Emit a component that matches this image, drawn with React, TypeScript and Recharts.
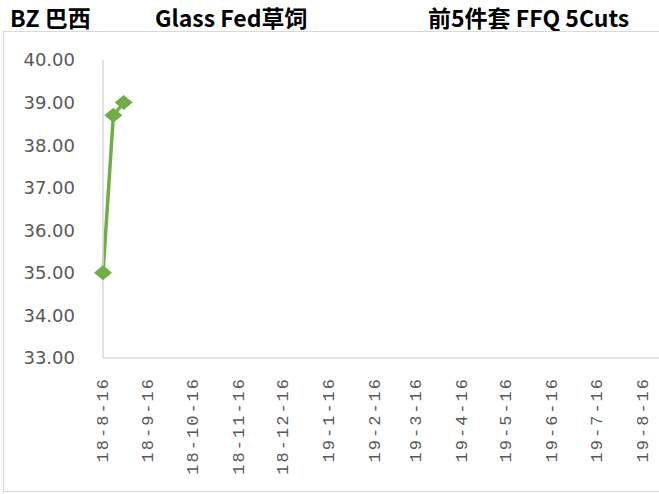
import { Line, LineChart, XAxis, YAxis } from 'recharts'

const pointDates = ['2018-08-16', '2018-08-23', '2018-08-30']
const prices = [35.0, 38.7, 39.0]

const tickDates = [
  '2018-08-16',
  '2018-09-16',
  '2018-10-16',
  '2018-11-16',
  '2018-12-16',
  '2019-01-16',
  '2019-02-16',
  '2019-03-16',
  '2019-04-16',
  '2019-05-16',
  '2019-06-16',
  '2019-07-16',
  '2019-08-16',
]
const axisStart = '2018-08-16'
const axisEnd = '2019-09-16'

const yTicks = [33, 34, 35, 36, 37, 38, 39, 40]

const titleParts = [
  { text: 'BZ 巴西', left: 10 },
  { text: 'Glass Fed草饲', left: 155 },
  { text: '前5件套 FFQ 5Cuts', left: 428 },
]

const toTime = (d: string) => new Date(d + 'T00:00:00Z').getTime()

const data = pointDates.map((d, i) => ({ t: toTime(d), price: prices[i] }))

const fmtDate = (t: number) => {
  const dt = new Date(t)
  return `${dt.getUTCFullYear() % 100}-${dt.getUTCMonth() + 1}-${dt.getUTCDate()}`
}

const GREEN = '#70AD47'
const AXIS = '#D9D9D9'
const LABEL = '#595959'

const Diamond = (props: any) => {
  const { cx, cy } = props
  if (cx == null || cy == null) return null
  return (
    <polygon
      points={`${cx - 9},${cy} ${cx},${cy - 7.5} ${cx + 9},${cy} ${cx},${cy + 7.5}`}
      fill={GREEN}
    />
  )
}

const DateTick = (props: any) => {
  const { x, y, payload } = props
  return (
    <text
      x={x}
      y={y}
      transform={`rotate(-90 ${x} ${y})`}
      textAnchor="end"
      dominantBaseline="central"
      fill={LABEL}
      fontSize={17}
      letterSpacing={2}
      fontFamily="'Liberation Mono', monospace"
    >
      {fmtDate(payload.value)}
    </text>
  )
}

export default function App() {
  return (
    <div
      style={{
        position: 'absolute',
        left: 0,
        top: 0,
        width: 659,
        height: 494,
        overflow: 'hidden',
        background: '#fff',
      }}
    >
      {titleParts.map((p) => (
        <div
          key={p.text}
          style={{
            position: 'absolute',
            left: p.left,
            top: 6,
            fontFamily: "'Noto Sans CJK SC', sans-serif",
            fontWeight: 700,
            fontSize: 23,
            lineHeight: '23px',
            color: '#000',
            whiteSpace: 'nowrap',
          }}
        >
          {p.text}
        </div>
      ))}
      <div
        style={{
          position: 'absolute',
          left: 3,
          top: 31,
          width: 720,
          height: 459,
          border: `1px solid ${AXIS}`,
        }}
      />
      <div style={{ position: 'absolute', left: 0, top: 0 }}>
        <LineChart
          width={689}
          height={494}
          data={data}
          margin={{ top: 60, right: 0, left: 0, bottom: 0 }}
        >
          <XAxis
            dataKey="t"
            type="number"
            scale="time"
            domain={[toTime(axisStart), toTime(axisEnd)]}
            ticks={tickDates.map(toTime)}
            tick={<DateTick />}
            tickLine={false}
            tickSize={0}
            tickMargin={19}
            axisLine={{ stroke: AXIS, strokeWidth: 1.5 }}
            height={136}
            interval={0}
          />
          <YAxis
            domain={[33, 40]}
            ticks={yTicks}
            tickFormatter={(v: number) => v.toFixed(2)}
            tick={{ fill: LABEL, fontSize: 18, fontFamily: "'DejaVu Sans', sans-serif" }}
            tickLine={false}
            tickSize={0}
            tickMargin={28}
            axisLine={{ stroke: AXIS, strokeWidth: 1.5 }}
            width={103}
            interval={0}
          />
          <Line
            type="linear"
            dataKey="price"
            stroke={GREEN}
            strokeWidth={3.5}
            dot={<Diamond />}
            activeDot={false}
            isAnimationActive={false}
          />
        </LineChart>
      </div>
    </div>
  )
}
